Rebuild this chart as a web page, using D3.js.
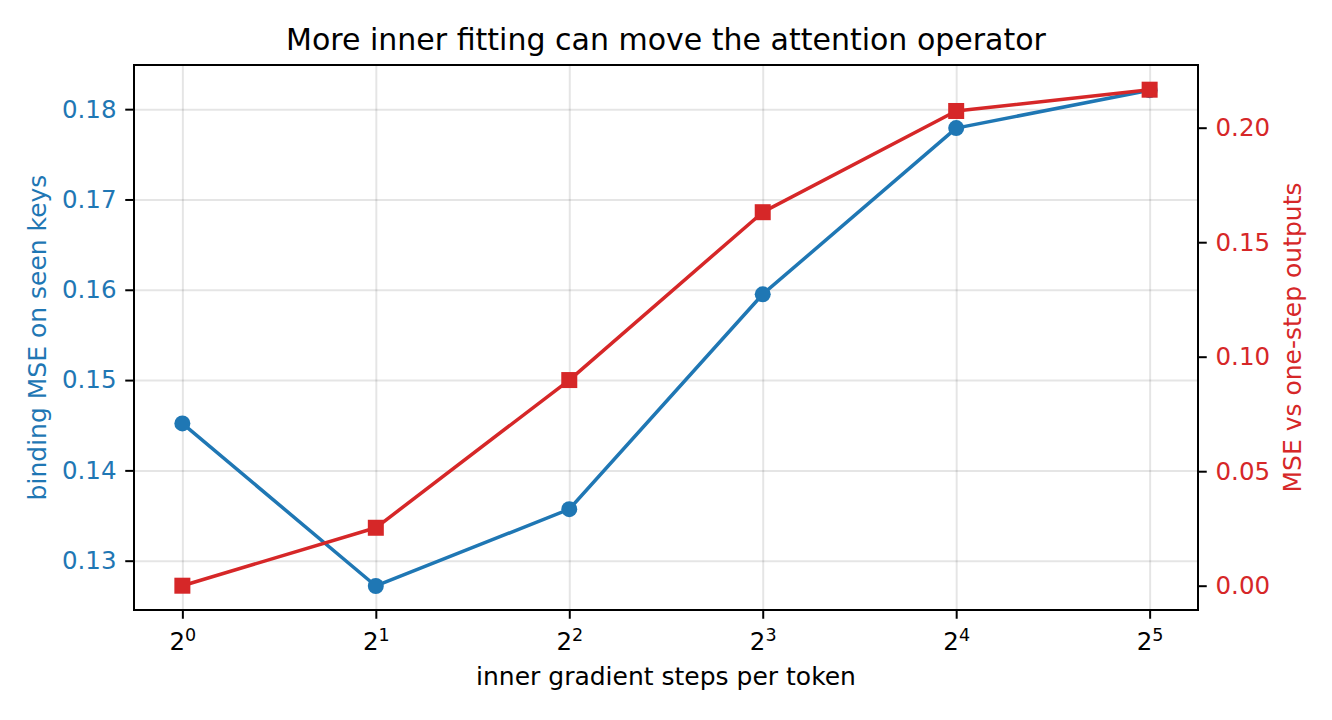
<!doctype html>
<html lang="en">
  <head>
    <meta charset="utf-8">
    <title>More inner fitting can move the attention operator</title>
    <script src="https://d3js.org/d3.v7.min.js"></script>
    <style>
      body { margin: 0; background: #fff; }
      svg text { font-family: "DejaVu Sans", sans-serif; }
      .grid line { stroke: #000; stroke-opacity: 0.1; stroke-width: 2; }
      .grid path { display: none; }
    </style>
  </head>
  <body>
    <div id="chart"></div>
    <script>
      // data
      const steps = [1, 2, 4, 8, 16, 32];
      const bindingMSE = [0.1452, 0.1272, 0.1357, 0.1595, 0.1779, 0.1821];
      const oneStepMSE = [0.0000, 0.0253, 0.0898, 0.1631, 0.2073, 0.2166];
      const leftTicks = [0.13, 0.14, 0.15, 0.16, 0.17, 0.18];
      const rightTicks = [0.00, 0.05, 0.10, 0.15, 0.20];

      const W = 1332, H = 720;
      const margin = {top: 65, right: 134, bottom: 110, left: 134};
      const blue = "#1f77b4", red = "#d62728";

      const svg = d3.select("#chart").append("svg")
        .attr("width", W).attr("height", H);

      const x = d3.scaleLog().base(2)
        .domain([Math.pow(2, -0.25), Math.pow(2, 5.25)])
        .range([margin.left, W - margin.right]);
      const yL = d3.scaleLinear()
        .domain([0.12454, 0.18489])
        .range([H - margin.bottom, margin.top]);
      const yR = d3.scaleLinear()
        .domain([-0.01061, 0.22738])
        .range([H - margin.bottom, margin.top]);

      const x0 = margin.left, x1 = W - margin.right;
      const yTop = margin.top, yBot = H - margin.bottom;

      // grid
      svg.append("g").attr("class", "grid")
        .attr("transform", `translate(0,${yBot})`)
        .call(d3.axisBottom(x).tickValues(steps).tickSize(-(yBot - yTop)).tickFormat(""));
      svg.append("g").attr("class", "grid")
        .attr("transform", `translate(${x0},0)`)
        .call(d3.axisLeft(yL).tickValues(leftTicks).tickSize(-(x1 - x0)).tickFormat(""));

      // lines + markers
      const line = (yScale, vals) => d3.line()
        .x((d, i) => x(steps[i]))
        .y(d => yScale(d))(vals);

      svg.append("path")
        .attr("d", line(yL, bindingMSE))
        .attr("fill", "none").attr("stroke", blue).attr("stroke-width", 3.5)
        .attr("stroke-linejoin", "round");
      svg.append("g").selectAll("circle")
        .data(bindingMSE)
        .join("circle")
          .attr("cx", (d, i) => x(steps[i]))
          .attr("cy", d => yL(d))
          .attr("r", 8)
          .attr("fill", blue);

      svg.append("path")
        .attr("d", line(yR, oneStepMSE))
        .attr("fill", "none").attr("stroke", red).attr("stroke-width", 3.5)
        .attr("stroke-linejoin", "round");
      svg.append("g").selectAll("rect")
        .data(oneStepMSE)
        .join("rect")
          .attr("x", (d, i) => x(steps[i]) - 8)
          .attr("y", d => yR(d) - 8)
          .attr("width", 16).attr("height", 16)
          .attr("fill", red);

      // axes
      const styleAxis = (g, color) => {
        g.select(".domain").remove();
        g.selectAll(".tick line").attr("stroke", "#000").attr("stroke-width", 2);
        g.selectAll(".tick text").attr("fill", color).style("font-size", "24.5px");
      };

      const xAxis = svg.append("g")
        .attr("transform", `translate(0,${yBot})`)
        .call(d3.axisBottom(x).tickValues(steps).tickSize(8.75).tickFormat(""));
      styleAxis(xAxis, "#000");
      xAxis.selectAll(".tick").each(function(d) {
        const t = d3.select(this).append("text")
          .attr("y", 40).attr("text-anchor", "middle")
          .attr("fill", "#000").style("font-size", "24.5px");
        t.append("tspan").text("2");
        t.append("tspan").attr("dy", -9).style("font-size", "17.5px").text(Math.log2(d));
      });

      const lAxis = svg.append("g")
        .attr("transform", `translate(${x0},0)`)
        .call(d3.axisLeft(yL).tickValues(leftTicks).tickSize(8.75).tickPadding(8.75).tickFormat(d3.format(".2f")));
      styleAxis(lAxis, blue);

      const rAxis = svg.append("g")
        .attr("transform", `translate(${x1},0)`)
        .call(d3.axisRight(yR).tickValues(rightTicks).tickSize(8.75).tickPadding(8.75).tickFormat(d3.format(".2f")));
      styleAxis(rAxis, red);

      // frame
      svg.append("rect")
        .attr("x", x0).attr("y", yTop)
        .attr("width", x1 - x0).attr("height", yBot - yTop)
        .attr("fill", "none").attr("stroke", "#000").attr("stroke-width", 2);

      // labels
      svg.append("text")
        .attr("x", (x0 + x1) / 2).attr("y", 50)
        .attr("text-anchor", "middle")
        .style("font-size", "30px")
        .text("More inner fitting can move the attention operator");

      svg.append("text")
        .attr("x", (x0 + x1) / 2).attr("y", 685)
        .attr("text-anchor", "middle")
        .style("font-size", "25px")
        .text("inner gradient steps per token");

      svg.append("text")
        .attr("transform", `translate(46,${(yTop + yBot) / 2}) rotate(-90)`)
        .attr("text-anchor", "middle")
        .attr("fill", blue)
        .style("font-size", "25px")
        .text("binding MSE on seen keys");

      svg.append("text")
        .attr("transform", `translate(1301,${(yTop + yBot) / 2}) rotate(-90)`)
        .attr("text-anchor", "middle")
        .attr("fill", red)
        .style("font-size", "25px")
        .text("MSE vs one-step outputs");
    </script>
  </body>
</html>
